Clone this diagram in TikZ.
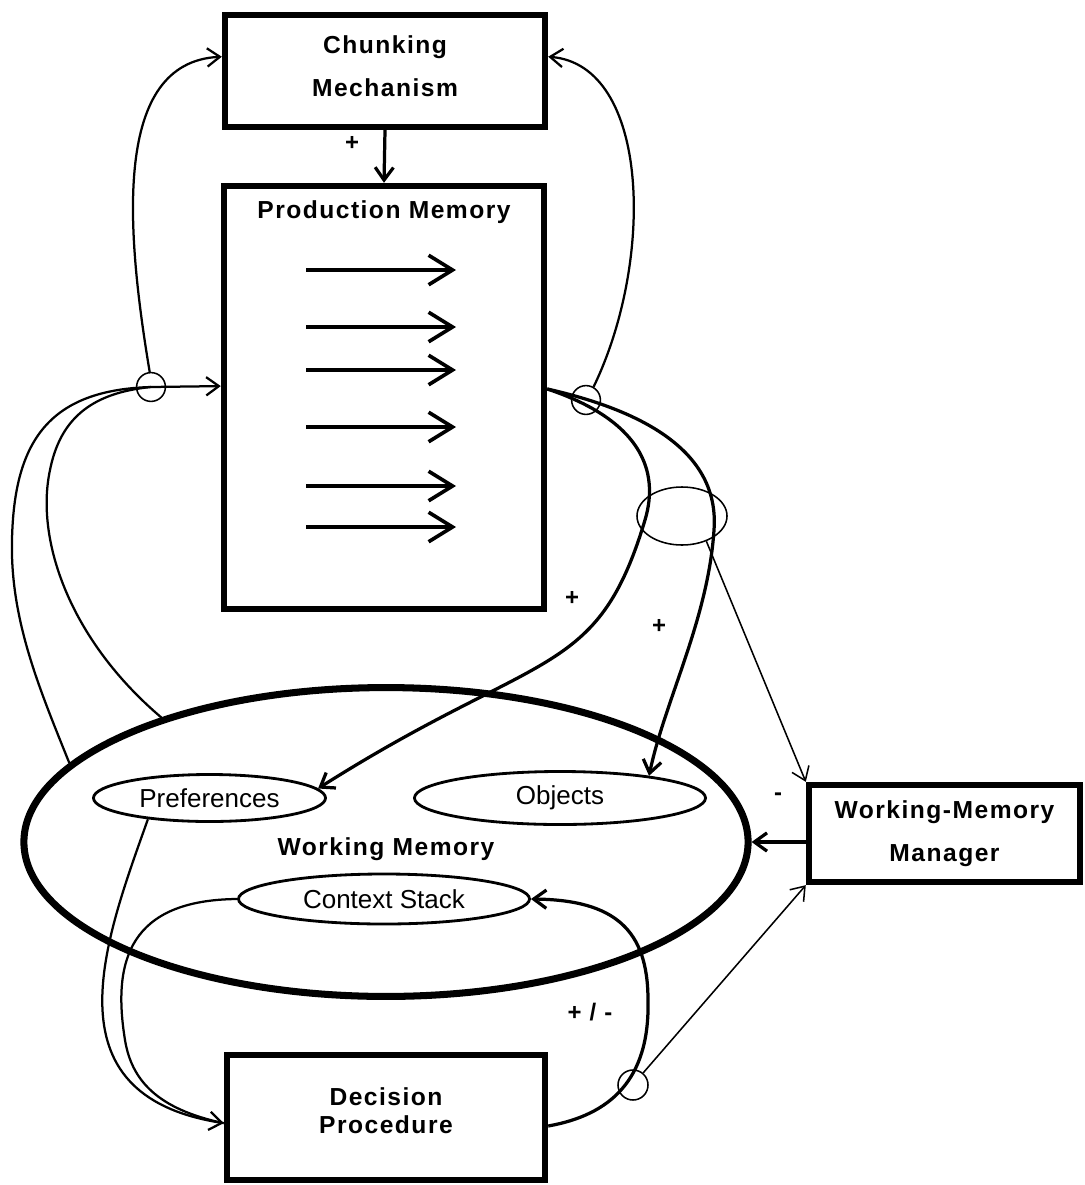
\documentclass[tikz,border=0pt]{standalone}
\usepackage{fontspec}
\setmainfont{Liberation Sans}
\newfontfamily\boxfont{Liberation Sans}[LetterSpace=6]
\usetikzlibrary{shapes, arrows.meta, positioning, calc}

\begin{document}
\begin{tikzpicture}[x=0.025cm, y=-0.025cm,
    >={Straight Barb[length=9pt,width=13pt]},
    box/.style={draw, line width=4.5pt, inner sep=0pt, align=center,
      font=\boxfont\bfseries\fontsize{17.5}{30.5}\selectfont},
    region/.style={draw, ellipse, line width=2pt, inner sep=0pt,
      font=\fontsize{18.5}{20}\selectfont},
    ring/.style={draw, circle, line width=1.1pt, inner sep=0pt, minimum size=0.72cm},
    thinline/.style={line width=1.1pt},
    link/.style={line width=1.6pt},
    boldlink/.style={line width=2.3pt},
    rulearrow/.style={line width=2.6pt, -{Straight Barb[length=17pt,width=21pt]}},
    sign/.style={inner sep=0pt, font=\boxfont\bfseries\fontsize{17}{17}\selectfont}]
      \useasboundingbox (0,0) rectangle (1085,1185);

      % boxes
      \node[box, minimum width=8cm, minimum height=2.8cm, text depth=6.4pt] (chunk) at (385,71) {Chunking\\Mechanism};
      \node[box, minimum width=8cm, minimum height=10.575cm] (prod) at (384,397.5) {};
      \node[inner sep=0pt, font=\boxfont\bfseries\fontsize{17.5}{20}\selectfont] (prodtitle) at (384,212) {Production Memory};
      \node[box, minimum width=6.775cm, minimum height=2.425cm] (wmm) at (944.5,833.5) {Working-Memory\\Manager};
      \node[box, minimum width=7.95cm, minimum height=3.125cm, text depth=10pt,
        font=\boxfont\bfseries\fontsize{17.5}{19.8}\selectfont] (dec) at (386,1117.5) {Decision\\Procedure};

      % working memory
      \node[draw, ellipse, line width=5pt, minimum width=18.1cm, minimum height=7.72cm, text height=23pt,
        font=\boxfont\bfseries\fontsize{17.5}{20}\selectfont] (wm) at (386,842) {Working Memory};
      \node[region, minimum width=5.8cm, minimum height=1.175cm] (pref) at (209.5,798) {Preferences};
      \node[region, minimum width=7.275cm, minimum height=1.325cm] (obj) at (560,798) {Objects};
      \node[region, minimum width=7.275cm, minimum height=1.25cm] (ctx) at (384,899) {Context Stack};

      % rings
      \node[ring] (cl) at (151,387) {};
      \node[ring] (cr) at (586,400) {};
      \node[ring, minimum size=0.75cm] (cd) at (633,1085) {};
      \node[draw, ellipse, thinline, minimum width=2.25cm, minimum height=1.45cm] (pair) at (682,516) {};

      % signs
      \node[sign] (plusc) at (352,143) {+};
      \node[sign] (plusp) at (572,598) {+};
      \node[sign] (pluso) at (659,626) {+};
      \node[sign] (minus) at (778,797) {-};
      \node[sign] (plusminus) at (590,1012) {+ / -};

      % productions
      \foreach \y in {270,327,370,427,486,527}
        \draw[rulearrow] (306,\y) -- (456,\y);

      % chunking
      \draw[boldlink,->] (chunk.south) -- (prod.north);
      \draw[link,->] (cl.95) .. controls (126,230) and (112,62) .. (chunk.175);
      \draw[link,->] (cr.60) .. controls (655,260) and (650,65) .. (chunk.5);

      % match
      \draw[link,->] (wm.166) .. controls (40,690) and (10,620) .. (12,540)
        .. controls (14,440) and (50,390) .. (cl.center) -- (prod.176);
      \draw[link] (wm.151) .. controls (70,640) and (35,540) .. (50,470)
        .. controls (60,420) and (90,393) .. (cl.center);

      % fire
      \draw[boldlink,->] (prod.3) .. controls (640,410) and (720,450) .. (714,530)
        .. controls (708,620) and (665,700) .. (obj.14);
      \draw[boldlink,->] (prod.3) .. controls (640,420) and (660,470) .. (645,520)
        .. controls (597,680) and (540,648) .. (pref.5);
      \draw[thinline,->] (pair.-46) -- (wmm.north west);
      \draw[boldlink,->] (wmm.west |- wm.east) -- (wm.east);

      % decide
      \draw[link,->] (pref.199) .. controls (105,940) and (45,1095) .. (dec.182);
      \draw[link] (ctx.west) .. controls (130,900) and (112,960) .. (125,1040)
        .. controls (131.5,1080) and (157,1109) .. (dec.182);
      \draw[boldlink,->] (dec.-3) .. controls (610,1115) and (650,1080) .. (648,1000)
        .. controls (648,930) and (615,900) .. (ctx.east);
      \draw[thinline,->] (cd.50) -- (wmm.south west);
    \end{tikzpicture}
\end{document}
